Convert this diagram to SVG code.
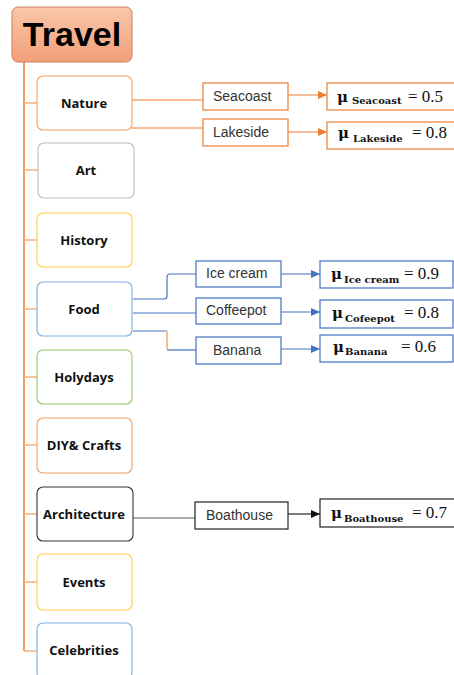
<svg xmlns="http://www.w3.org/2000/svg" width="454" height="675" viewBox="0 0 454 675">
<style>
.nd{fill:#fff;stroke-width:1.1}
.nt{font-family:"Open Sans","Liberation Sans",sans-serif;font-weight:bold;font-size:13px;fill:#111;text-anchor:middle}
.stub{stroke:#f4b183;stroke-width:1.3;fill:none}
.lb{font-family:"Liberation Sans",Arial,sans-serif;font-size:14px;fill:#333}
.bx{fill:#fff;stroke-width:1.2}
.mu{font-family:"DejaVu Serif",serif;font-weight:bold;font-size:15px;fill:#111}
.sub{font-family:"DejaVu Serif",serif;font-weight:bold;font-size:10px;fill:#111}
.eq{font-family:"Liberation Serif","Times New Roman",serif;font-size:17px;fill:#111}
.or{stroke:#ed7d31}
.bl{stroke:#4472c4}
.bk{stroke:#222}
</style>
<defs>
<linearGradient id="tg" x1="0" y1="0" x2="0" y2="1">
<stop offset="0" stop-color="#f8c7aa"/>
<stop offset="1" stop-color="#f29f78"/>
</linearGradient>
<marker id="ao" markerUnits="userSpaceOnUse" markerWidth="9" markerHeight="8" refX="9" refY="4" orient="auto"><path d="M0,0 L9,4 L0,8 z" fill="#ed7d31"/></marker>
<marker id="ab" markerUnits="userSpaceOnUse" markerWidth="9" markerHeight="8" refX="9" refY="4" orient="auto"><path d="M0,0 L9,4 L0,8 z" fill="#4472c4"/></marker>
<marker id="ak" markerUnits="userSpaceOnUse" markerWidth="9" markerHeight="8" refX="9" refY="4" orient="auto"><path d="M0,0 L9,4 L0,8 z" fill="#111"/></marker>
</defs>

<g id="connectors" fill="none">
<line x1="24" y1="62" x2="24" y2="651" stroke="#ed7d31" stroke-width="1.5"/>
<path class="stub" d="M24,103H37 M24,170H38 M24,240H37 M24,309H37 M24,377H37 M24,445H37 M24,514H37 M24,582H37 M24,651H37"/>
<path class="or" stroke-width="1.2" d="M132,100H203 M131,128H203"/>
<line class="or" stroke-width="1.2" x1="288" y1="95" x2="327" y2="95" marker-end="url(#ao)"/>
<line class="or" stroke-width="1.2" x1="288" y1="132" x2="327" y2="132" marker-end="url(#ao)"/>
<path class="bl" stroke-width="1.2" d="M133,299H164Q167,299 167,296V277Q167,274 170,274H196 M133,313H196 M133,331H167"/>
<path stroke="#f4a460" stroke-width="1.4" d="M167,331V349"/>
<path class="bl" stroke-width="1.2" d="M167,350H196"/>
<line class="bl" stroke-width="1.2" x1="281" y1="274" x2="320" y2="274" marker-end="url(#ab)"/>
<line class="bl" stroke-width="1.2" x1="281" y1="312" x2="320" y2="312" marker-end="url(#ab)"/>
<line class="bl" stroke-width="1.2" x1="281" y1="349" x2="320" y2="349" marker-end="url(#ab)"/>
<path stroke="#555" stroke-width="1.2" d="M133,518H195"/>
<line class="bk" stroke-width="1.2" x1="288" y1="514" x2="320" y2="514" marker-end="url(#ak)"/>
</g>

<g id="travel">
<rect x="12" y="7" width="120" height="55" rx="6" fill="url(#tg)" stroke="#c9805f" stroke-width="1"/>
<text x="72" y="46" font-family="Liberation Sans,Arial,sans-serif" font-weight="bold" font-size="34" fill="#000" text-anchor="middle">Travel</text>
</g>

<g id="nature"><rect class="nd" x="37" y="76" width="95" height="54" rx="6" stroke="#f4a261"/><text class="nt" x="84" y="107.5">Nature</text></g>
<g id="art"><rect class="nd" x="38" y="143" width="96" height="55" rx="6" stroke="#bdbdbd"/><text class="nt" x="86" y="175">Art</text></g>
<g id="history"><rect class="nd" x="37" y="213" width="95" height="54" rx="6" stroke="#ffcc44"/><text class="nt" x="84" y="244.5">History</text></g>
<g id="food"><rect class="nd" x="37" y="282" width="95" height="54" rx="6" stroke="#7eaee0"/><text class="nt" x="84" y="313.5">Food</text></g>
<g id="holydays"><rect class="nd" x="37" y="350" width="95" height="54" rx="6" stroke="#90c96c"/><text class="nt" x="84" y="381.5">Holydays</text></g>
<g id="diy"><rect class="nd" x="37" y="418" width="95" height="55" rx="6" stroke="#f4a261"/><text class="nt" x="84" y="450">DIY&amp; Crafts</text></g>
<g id="architecture"><rect class="nd" x="37" y="487" width="96" height="54" rx="6" stroke="#333"/><text class="nt" x="84" y="518.5">Architecture</text></g>
<g id="events"><rect class="nd" x="37" y="554" width="95" height="56" rx="6" stroke="#ffcc44"/><text class="nt" x="84" y="586.5">Events</text></g>
<g id="celebrities"><rect class="nd" x="37" y="623" width="95" height="56" rx="6" stroke="#7eaee0"/><text class="nt" x="84" y="655">Celebrities</text></g>

<g id="seacoast"><rect class="bx or" x="203" y="83" width="85" height="27"/><text class="lb" x="213" y="101">Seacoast</text></g>
<g id="lakeside"><rect class="bx or" x="203" y="119" width="85" height="27"/><text class="lb" x="213" y="136.5">Lakeside</text></g>
<g id="mu-seacoast"><rect class="bx or" x="327" y="83" width="140" height="27"/><text class="mu" x="337" y="102">μ</text><text class="sub" x="352" y="104">Seacoast</text><text class="eq" x="408" y="101.5">= 0.5</text></g>
<g id="mu-lakeside"><rect class="bx or" x="327" y="122" width="140" height="27"/><text class="mu" x="338" y="138">μ</text><text class="sub" x="353" y="141.5">Lakeside</text><text class="eq" x="412" y="138">= 0.8</text></g>

<g id="icecream"><rect class="bx bl" x="196" y="261" width="85" height="26"/><text class="lb" x="206" y="278" font-size="13">Ice cream</text></g>
<g id="coffeepot"><rect class="bx bl" x="196" y="298" width="85" height="26"/><text class="lb" x="206" y="315">Coffeepot</text></g>
<g id="banana"><rect class="bx bl" x="196" y="337" width="85" height="27"/><text class="lb" x="213" y="355">Banana</text></g>
<g id="mu-icecream"><rect class="bx bl" x="320" y="261" width="133" height="27"/><text class="mu" x="331" y="279">μ</text><text class="sub" x="344" y="282.5">Ice cream</text><text class="eq" x="404" y="279">= 0.9</text></g>
<g id="mu-cofeepot"><rect class="bx bl" x="320" y="300" width="133" height="28"/><text class="mu" x="332" y="318">μ</text><text class="sub" x="345" y="321.5">Cofeepot</text><text class="eq" x="404" y="318">= 0.8</text></g>
<g id="mu-banana"><rect class="bx bl" x="320" y="335" width="133" height="27"/><text class="mu" x="333" y="352">μ</text><text class="sub" x="345" y="355">Banana</text><text class="eq" x="401" y="352">= 0.6</text></g>

<g id="boathouse"><rect class="bx bk" x="195" y="502" width="93" height="27"/><text class="lb" x="206" y="520">Boathouse</text></g>
<g id="mu-boathouse"><rect class="bx bk" x="320" y="499" width="140" height="28"/><text class="mu" x="331" y="518">μ</text><text class="sub" x="344" y="521.5">Boathouse</text><text class="eq" x="412" y="518">= 0.7</text></g>
</svg>
